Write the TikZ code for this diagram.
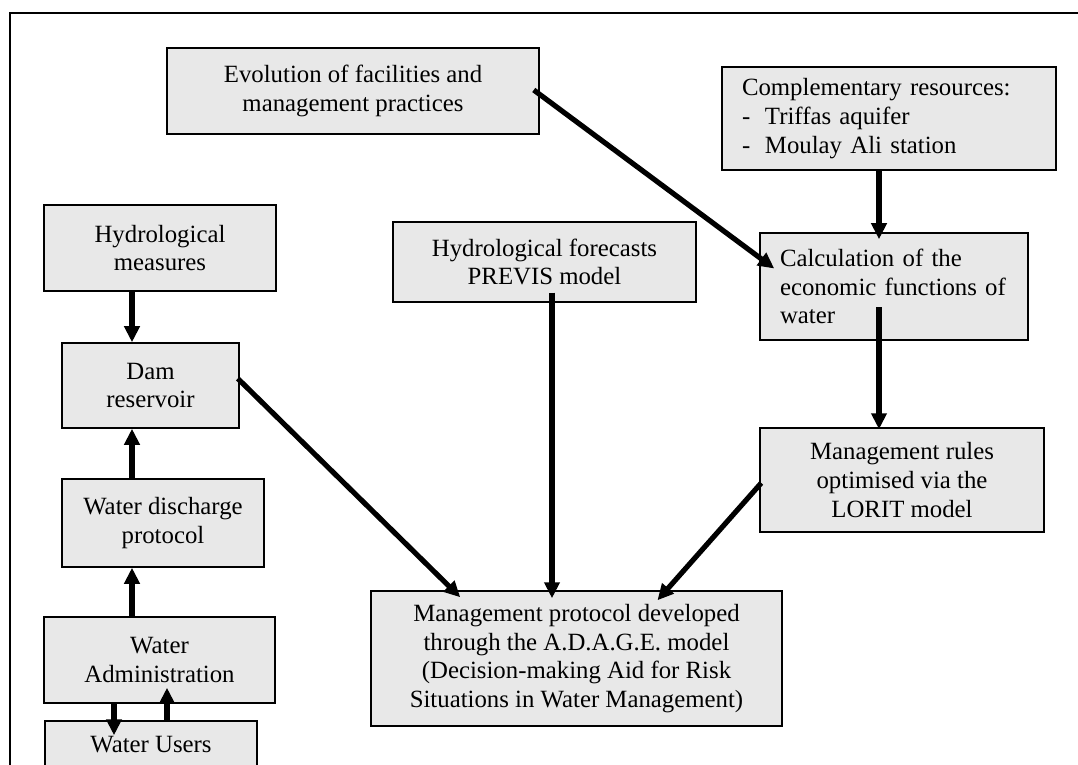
\documentclass[tikz,border=0pt]{standalone}
\usepackage{fontspec}
\setmainfont{Liberation Serif}
\usepackage{xcolor}
\usetikzlibrary{arrows.meta,calc}
\definecolor{boxgray}{gray}{0.91}

\begin{document}
\begin{tikzpicture}[x=0.5pt,y=-0.5pt,
  box/.style={draw,line width=0.75pt,fill=boxgray,inner sep=0pt,align=center,
    font=\fontsize{12.4}{14.3}\selectfont},
  lbox/.style={box,align=left,inner xsep=10pt},
  arr/.style={line width=2.6pt,-{Triangle[length=8pt,width=7.5pt]}}]
\useasboundingbox (0,0) rectangle (1078,765);
\begin{scope}
\clip (0,0) rectangle (1078,765);
\draw[line width=1pt] (10,13) rectangle (1100,800);

\node[box,minimum width=186pt,minimum height=43pt] (evol) at (353,91) {Evolution of facilities and\\management practices};
\node[lbox,text width=147pt,minimum height=51.5pt] (compl) at (889,118.5) {Complementary resources:\\\makebox[11.5pt][l]{-}Triffas aquifer\\\makebox[11.5pt][l]{-}Moulay Ali station};
\node[box,minimum width=116pt,minimum height=43pt] (hmeas) at (160,248) {Hydrological\\measures};
\node[box,minimum width=151.5pt,minimum height=40pt] (hfore) at (544.5,262) {Hydrological forecasts\\PREVIS model};
\node[lbox,text width=114pt,minimum height=53.5pt] (calc) at (894,286.5) {Calculation of the\\economic functions of\\water};
\node[box,minimum width=88.5pt,minimum height=42.5pt] (dam) at (150.5,385.5) {Dam\\reservoir};
\node[box,minimum width=142pt,minimum height=52pt] (rules) at (902,480) {Management rules\\optimised via the\\LORIT model};
\node[box,minimum width=101pt,minimum height=44pt] (disch) at (163,523) {Water discharge\\protocol};
\node[box,minimum width=205.5pt,minimum height=67.5pt] (proto) at (576.5,658.5) {Management protocol developed\\through the A.D.A.G.E. model\\(Decision-making Aid for Risk\\Situations in Water Management)};
\node[box,minimum width=115.5pt,minimum height=43pt] (admin) at (159.5,660) {Water\\Administration};
\node[box,minimum width=106pt,minimum height=24pt] (users) at (151,745) {Water Users};

\draw[arr] ($(evol.east)+(-6,-1)$) -- ($(calc.west)+(15,-18)$);
\draw[arr] ($(compl.south)+(-10,0)$) -- ($(calc.north)+(-15,7)$);
\draw[arr] ($(calc.north)+(-15,75)$) -- ($(rules.north)+(-23,2)$);
\draw[arr] ($(hmeas.south)+(-28,0)$) -- ($(dam.north)+(-18.5,0)$);
\draw[arr] ($(dam.east)+(-2,-7)$) -- ($(proto.north west)+(90,7)$);
\draw[arr] ($(hfore.south)+(7.5,-10)$) -- ($(proto.north)+(-24.5,8)$);
\draw[arr] ($(rules.west)+(2,3)$) -- ($(proto.north)+(81,10)$);
\draw[arr] ($(disch.north)+(-31,0)$) -- ($(dam.south)+(-18.5,0)$);
\draw[arr] ($(admin.north)+(-27.5,0)$) -- ($(disch.south)+(-31,0)$);
\draw[arr] ($(admin.south)+(-45.5,0)$) -- ($(users.north)+(-37,15)$);
\draw[arr] ($(users.north)+(16,0)$) -- ($(admin.south)+(7.5,-16)$);
\end{scope}
\end{tikzpicture}
\end{document}
